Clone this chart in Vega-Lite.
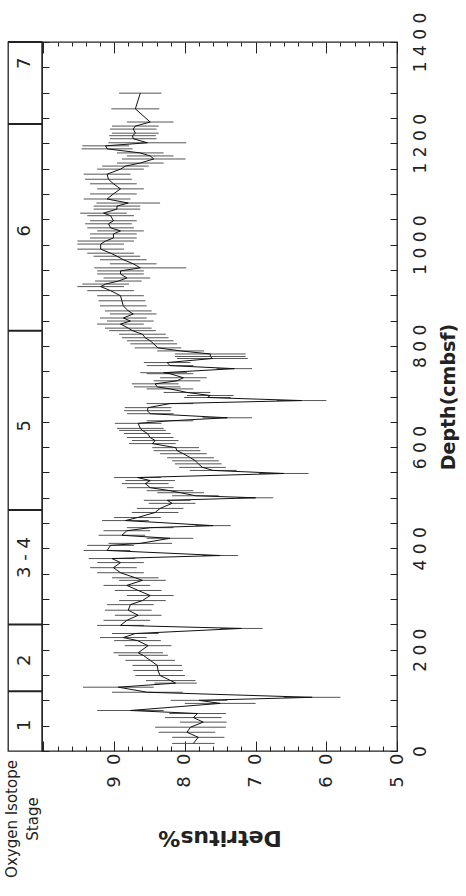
{
  "$schema": "https://vega.github.io/schema/vega-lite/v6.json",
  "autosize": {"type": "pad"},
  "padding": {"left": 4, "top": 11, "right": 5, "bottom": 5},
  "background": "white",
  "bounds": "flush",
  "spacing": 0,
  "config": {
    "font": "DejaVu Sans",
    "view": {"stroke": "#222", "strokeWidth": 1.3},
    "axis": {"domain": false, "grid": false, "tickColor": "#222", "tickWidth": 1, "labelColor": "#222", "titleColor": "#222"}
  },
  "hconcat": [
    {
      "width": 34,
      "height": 709,
      "data": {"values": [
        {"stage": "1", "mid": 51, "top": 118},
        {"stage": "2", "mid": 179, "top": 250},
        {"stage": "3 - 4", "mid": 382, "top": 476},
        {"stage": "5", "mid": 642, "top": 830},
        {"stage": "6", "mid": 1027, "top": 1238},
        {"stage": "7", "mid": 1358, "top": 1400}
      ]},
      "title": {"text": ["Oxygen Isotope", "Stage"], "orient": "bottom", "angle": -90, "align": "center", "baseline": "middle", "offset": 68, "dy": -13, "fontSize": 15, "fontWeight": "normal", "lineHeight": 21, "color": "#222", "anchor": "middle"},
      "layer": [
        {
          "mark": {"type": "rule", "strokeWidth": 2, "color": "#222"},
          "encoding": {"y": {"field": "top", "type": "quantitative", "scale": {"domain": [0, 1400], "nice": false}, "axis": null}}
        },
        {
          "mark": {"type": "text", "angle": -90, "fontSize": 18, "align": "center", "baseline": "middle", "color": "#222"},
          "encoding": {
            "y": {"field": "mid", "type": "quantitative", "scale": {"domain": [0, 1400], "nice": false}, "axis": null},
            "text": {"field": "stage"}
          }
        }
      ]
    },
    {
      "width": 355,
      "height": 709,
      "data": {"values": [
        {"d":15,"v":78.8,"e":3},{"d":27,"v":78.1,"e":3.7},{"d":37,"v":79.7,"e":4},{"d":47,"v":79.2,"e":5},{"d":57,"v":77.4,"e":3.3},
        {"d":66,"v":78.8,"e":4},{"d":74,"v":78.2,"e":4},{"d":80,"v":87.7,"e":4.7},{"d":94,"v":75,"e":5},{"d":100,"v":78,"e":4},
        {"d":106,"v":62,"e":4},{"d":116,"v":85.3,"e":5},{"d":126,"v":89.4,"e":5},{"d":134,"v":81.3,"e":3},{"d":139,"v":82,"e":3.5},
        {"d":149,"v":83.5,"e":3.5},{"d":159,"v":83.8,"e":3.5},{"d":169,"v":83.9,"e":3.5},{"d":179,"v":84.9,"e":3.5},{"d":189,"v":85.9,"e":3.5},
        {"d":194,"v":86.6,"e":3.5},{"d":208,"v":85.2,"e":3.3},{"d":218,"v":86.7,"e":3.3},{"d":224,"v":88.7,"e":3.3},{"d":232,"v":87,"e":3.3},
        {"d":242,"v":72,"e":3},{"d":248,"v":89.1,"e":3.3},{"d":258,"v":88.2,"e":3.3},{"d":268,"v":86.6,"e":3.3},{"d":278,"v":88,"e":3.3},
        {"d":289,"v":87.7,"e":3.3},{"d":297,"v":86,"e":3.3},{"d":307,"v":84.9,"e":3.3},{"d":317,"v":86.6,"e":3.3},{"d":327,"v":88.2,"e":3.3},
        {"d":337,"v":86,"e":3.3},{"d":342,"v":87,"e":3.3},{"d":352,"v":89.1,"e":3.3},{"d":362,"v":90.1,"e":3.3},{"d":372,"v":89.1,"e":3.3},
        {"d":380,"v":90.3,"e":3.3},{"d":386,"v":75,"e":2.5},{"d":396,"v":91,"e":3.3},{"d":406,"v":90.5,"e":3.3},{"d":410,"v":86.3,"e":4.5},
        {"d":420,"v":82.1,"e":3.3},{"d":426,"v":88.9,"e":3.3},{"d":435,"v":88.2,"e":3.3},{"d":441,"v":84.9,"e":3.3},{"d":445,"v":76,"e":2.5},
        {"d":455,"v":88.4,"e":3.3},{"d":461,"v":86.7,"e":3.3},{"d":471,"v":84.2,"e":3.3},{"d":479,"v":83.5,"e":3.3},{"d":489,"v":81.8,"e":3.3},
        {"d":495,"v":82.5,"e":3.3},{"d":500,"v":70,"e":2.5},{"d":504,"v":78.5,"e":3.3},{"d":510,"v":80.6,"e":3.3},{"d":514,"v":82.1,"e":3.3},
        {"d":520,"v":84.9,"e":3.3},{"d":528,"v":85.6,"e":3.3},{"d":534,"v":84.9,"e":3.5},{"d":540,"v":86.7,"e":3.3},{"d":548,"v":66,"e":3.5},
        {"d":554,"v":76,"e":3.3},{"d":560,"v":77.5,"e":3.3},{"d":567,"v":78.1,"e":3.3},{"d":573,"v":78.5,"e":3.3},{"d":579,"v":79.2,"e":3.3},
        {"d":587,"v":80.2,"e":3.3},{"d":593,"v":81.1,"e":3.3},{"d":599,"v":81.3,"e":3.3},{"d":607,"v":84.6,"e":3.3},{"d":613,"v":84.2,"e":3.3},
        {"d":619,"v":84.9,"e":3.3},{"d":627,"v":85.3,"e":3.3},{"d":633,"v":86,"e":3.3},{"d":637,"v":86.3,"e":3.3},{"d":647,"v":86.6,"e":3.3},
        {"d":652,"v":82.1,"e":3.3},{"d":658,"v":74,"e":3.5},{"d":666,"v":84.9,"e":3.3},{"d":672,"v":85.3,"e":3.3},{"d":678,"v":85.2,"e":3.3},
        {"d":686,"v":82.1,"e":3.3},{"d":692,"v":63.5,"e":3.5},{"d":698,"v":76.8,"e":3.3},{"d":702,"v":76.4,"e":3.3},{"d":708,"v":79.7,"e":3.3},
        {"d":715,"v":82.1,"e":3.3},{"d":719,"v":83.9,"e":3.3},{"d":725,"v":84.2,"e":3.3},{"d":731,"v":81.1,"e":3.3},{"d":737,"v":80.2,"e":3.3},
        {"d":745,"v":82.1,"e":3.3},{"d":747,"v":83,"e":3.3},{"d":755,"v":73,"e":2.5},{"d":761,"v":82.1,"e":3.3},{"d":767,"v":82.5,"e":3.3},
        {"d":775,"v":76.1,"e":5},{"d":779,"v":76.4,"e":5},{"d":784,"v":76.4,"e":5},{"d":790,"v":80.6,"e":3.3},{"d":796,"v":83.8,"e":3.3},
        {"d":804,"v":84.4,"e":3.3},{"d":810,"v":84.9,"e":3.3},{"d":816,"v":85.6,"e":3.3},{"d":823,"v":86,"e":3.3},{"d":830,"v":87.4,"e":3.3},
        {"d":835,"v":88,"e":3.3},{"d":843,"v":89.1,"e":3.3},{"d":849,"v":87.7,"e":3.3},{"d":855,"v":88.7,"e":3.3},{"d":863,"v":87.3,"e":3.3},
        {"d":869,"v":88,"e":3.3},{"d":879,"v":88.7,"e":3.3},{"d":889,"v":88.9,"e":3.3},{"d":899,"v":89.1,"e":3.3},{"d":909,"v":90.5,"e":3.3},
        {"d":917,"v":91.9,"e":3.3},{"d":922,"v":91.2,"e":3.3},{"d":928,"v":89.4,"e":3.3},{"d":934,"v":88.2,"e":3.3},{"d":942,"v":89.1,"e":3.3},
        {"d":948,"v":89.1,"e":3.3},{"d":954,"v":86.3,"e":6.5},{"d":962,"v":87.3,"e":3.3},{"d":970,"v":88.7,"e":3.3},{"d":977,"v":89.6,"e":3.3},
        {"d":983,"v":90.5,"e":3.3},{"d":991,"v":91.9,"e":3.3},{"d":1001,"v":91.9,"e":3.3},{"d":1007,"v":91.2,"e":4},{"d":1013,"v":90.1,"e":3.3},
        {"d":1021,"v":90.1,"e":3.3},{"d":1027,"v":89.1,"e":3.3},{"d":1033,"v":90.5,"e":3.3},{"d":1041,"v":90.8,"e":3.3},{"d":1047,"v":90.1,"e":3.3},
        {"d":1057,"v":90.5,"e":3.3},{"d":1062,"v":91.5,"e":3.3},{"d":1070,"v":89.6,"e":3.3},{"d":1076,"v":89.6,"e":3.3},{"d":1082,"v":88,"e":4.5},
        {"d":1090,"v":91,"e":3.3},{"d":1100,"v":90.1,"e":3.3},{"d":1110,"v":89.1,"e":3.3},{"d":1120,"v":90.1,"e":3.3},{"d":1129,"v":90.8,"e":3.3},
        {"d":1139,"v":91,"e":3.3},{"d":1149,"v":89.1,"e":3.3},{"d":1155,"v":88.4,"e":3.3},{"d":1161,"v":86.3,"e":3.3},{"d":1169,"v":84.4,"e":4.5},
        {"d":1175,"v":84.9,"e":3.3},{"d":1181,"v":86.3,"e":3.3},{"d":1189,"v":91,"e":3.6},{"d":1195,"v":91.2,"e":3.3},{"d":1201,"v":85.3,"e":5.5},
        {"d":1209,"v":87.3,"e":3.3},{"d":1215,"v":87.4,"e":3.3},{"d":1220,"v":87,"e":3.3},{"d":1228,"v":87.3,"e":3.3},{"d":1234,"v":87,"e":3.3},
        {"d":1242,"v":84.9,"e":3.3},{"d":1268,"v":87,"e":3.4},{"d":1299,"v":86.3,"e":3}
      ]},
      "resolve": {"axis": {"x": "independent", "y": "independent"}},
      "layer": [
        {
          "mark": {"type": "errorbar", "color": "#555", "thickness": 1},
          "encoding": {
            "y": {
              "field": "d", "type": "quantitative",
              "scale": {"domain": [0, 1400], "nice": false},
              "axis": {
                "orient": "right",
                "values": [0,50,100,150,200,250,300,350,400,450,500,550,600,650,700,750,800,850,900,950,1000,1050,1100,1150,1200,1250,1300,1350,1400],
                "format": "d",
                "tickSize": -7,
                "labelExpr": "datum.value % 200 === 0 ? replace(datum.label, /(\\d)(?=\\d)/g, '$1 ') : ''",
                "labelAngle": -90, "labelAlign": "center", "labelBaseline": "top",
                "labelPadding": 22, "labelFontSize": 17, "labelOverlap": false, "labelFlush": false,
                "title": "Depth(cmbsf)", "titleAngle": 270, "titleBaseline": "top", "titleFontSize": 19, "titleFontWeight": "bold", "titlePadding": 11
              }
            },
            "x": {
              "field": "v", "type": "quantitative",
              "scale": {"domain": [50, 100.2], "nice": false, "zero": false, "reverse": true},
              "axis": {
                "orient": "bottom",
                "values": [50,52,54,56,58,60,62,64,66,68,70,72,74,76,78,80,82,84,86,88,90,92,94,96,98,100],
                "format": "d",
                "tickSize": {"condition": {"test": "datum.value % 10 === 0", "value": -10}, "value": -5},
                "labelExpr": "datum.value % 10 === 0 && datum.value < 100 ? replace(datum.label, /(\\d)(?=\\d)/g, '$1 \u00a0') : ''",
                "labelAngle": -90, "labelAlign": "right", "labelBaseline": "middle",
                "labelPadding": 12, "labelFontSize": 18, "labelOverlap": false, "labelFlush": false,
                "title": "Detritus%", "titleAngle": 180, "titleBaseline": "bottom", "titleFontSize": 22, "titleFontWeight": "bold", "titlePadding": 38
              }
            },
            "xError": {"field": "e"}
          }
        },
        {
          "mark": {"type": "line", "color": "#111", "strokeWidth": 1},
          "encoding": {
            "y": {
              "field": "d", "type": "quantitative",
              "scale": {"domain": [0, 1400], "nice": false},
              "axis": {
                "orient": "left",
                "values": [0,50,100,150,200,250,300,350,400,450,500,550,600,650,700,750,800,850,900,950,1000,1050,1100,1150,1200,1250,1300,1350,1400],
                "tickSize": -7, "labels": false, "title": null
              }
            },
            "x": {
              "field": "v", "type": "quantitative",
              "scale": {"domain": [50, 100.2], "nice": false, "zero": false, "reverse": true},
              "axis": {
                "orient": "top",
                "values": [50,52,54,56,58,60,62,64,66,68,70,72,74,76,78,80,82,84,86,88,90,92,94,96,98,100],
                "tickSize": {"condition": {"test": "datum.value % 10 === 0", "value": -11}, "value": -4},
                "labels": false, "title": null
              }
            },
            "order": {"field": "d", "type": "quantitative"}
          }
        }
      ]
    }
  ]
}
